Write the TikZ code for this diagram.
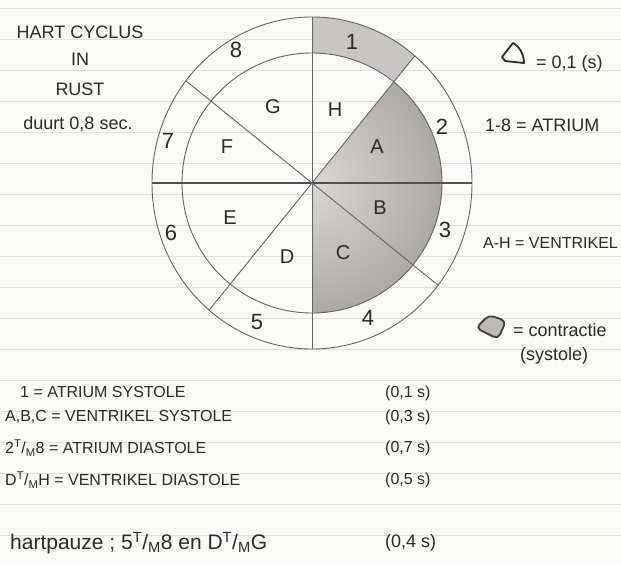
\documentclass[tikz,border=0pt]{standalone}
\usepackage{fontspec}
\setmainfont{Liberation Sans}
\definecolor{paper}{RGB}{250,250,248}
\definecolor{rulec}{RGB}{224,224,228}
\definecolor{penc}{RGB}{100,100,100}
\definecolor{inkc}{RGB}{45,42,42}
\definecolor{fillA}{RGB}{200,198,196}
\definecolor{fillIn}{RGB}{218,216,214}
\definecolor{fillOut}{RGB}{172,169,167}
\newcommand\tmk{\textsuperscript{T}/\textsubscript{M}}
\begin{document}
\begin{tikzpicture}[x=1pt,y=-1pt,
  pen/.style={draw=penc, line width=0.9pt},
  hand/.style={text=inkc, inner sep=0pt},
  fnum/.style={font=\fontsize{22}{22}\selectfont},
  flet/.style={font=\fontsize{20}{20}\selectfont},
  ftxt/.style={font=\fontsize{16}{16}\selectfont},
  fbig/.style={font=\fontsize{18}{18}\selectfont}]
\useasboundingbox (0,0) rectangle (621,563);
\fill[paper] (0,0) rectangle (621,563);
\foreach \yy in {8,39,70,101,132,163,194,225,256,287,318,349,380,411,442,473,504,535}
  \draw[rulec, line width=0.7pt] (0,\yy) -- (621,\yy);
% ---- circle diagram
\begin{scope}[shift={(312,183)}, yscale=-1]
  \fill[fillA] (0,130) -- (0,166) arc[start angle=90, end angle=50, x radius=160, y radius=166]
     -- (51:130) arc[start angle=51, end angle=90, radius=130] -- cycle;
  \begin{scope}
    \clip (0,0) -- (51:130) arc[start angle=51, end angle=-90, radius=130] -- cycle;
    \shade[inner color=fillIn, outer color=fillOut] (0,0) circle (130);
  \end{scope}
  \draw[pen] (0,0) ellipse [x radius=160, y radius=166];
  \draw[pen] (0,0) circle (130);
  \draw[pen] (0,166) -- (0,-166);
  \draw[pen, line width=1.2pt, draw=penc!80!black] (-160,0) -- (160,0);
  \draw[pen] ({160*cos(50)},{166*sin(50)}) -- ({160*cos(230)},{166*sin(230)});
  \draw[pen] ({160*cos(142)},{166*sin(142)}) -- ({160*cos(-38)},{166*sin(-38)});
\end{scope}
% ring numbers
\node[hand, fnum] (n1) at (352,42) {1};
\node[hand, fnum] (n2) at (442,127) {2};
\node[hand, fnum] (n3) at (445,230) {3};
\node[hand, fnum] (n4) at (368,318) {4};
\node[hand, fnum] (n5) at (257,322) {5};
\node[hand, fnum] (n6) at (171,233) {6};
\node[hand, fnum] (n7) at (168,141) {7};
\node[hand, fnum] (n8) at (236,50) {8};
% inner letters
\node[hand, flet] (lA) at (377,147) {A};
\node[hand, flet] (lB) at (380,208) {B};
\node[hand, flet] (lC) at (343,253) {C};
\node[hand, flet] (lD) at (287,257) {D};
\node[hand, flet] (lE) at (230,218) {E};
\node[hand, flet] (lF) at (227,147) {F};
\node[hand, flet] (lG) at (273,107) {G};
\node[hand, flet] (lH) at (335,110) {H};
% title
\node[hand, fbig] (t1) at (80,32) {HART CYCLUS};
\node[hand, fbig] (t2) at (80,59) {IN};
\node[hand, fbig] (t3) at (80,89) {RUST};
\node[hand, fbig] (t4) at (78,124) {duurt 0,8 sec.};
% legend right
\draw[draw=inkc, line width=1.8pt, line join=round]
  (502,57) -- (513,43) .. controls (519,46) and (524,54) .. (524,63) -- (505,61) -- cycle;
\node[hand, fbig, anchor=west] (k1) at (536,64) {= 0,1 (s)};
\node[hand, fbig, anchor=west] (k2) at (485,125) {1-8 = ATRIUM};
\node[hand, ftxt, anchor=west] (k3) at (483,243) {A-H = VENTRIKEL};
\draw[draw=inkc!90, fill=fillA!85!gray, line width=1.8pt, rounded corners=5pt]
  (476,328) -- (489,315) -- (506,321) -- (498,339) -- cycle;
\node[hand, fbig, anchor=west] (k4) at (513,330) {= contractie};
\node[hand, fbig, anchor=west] (k5) at (520,356) {(systole)};
% bottom list
\node[hand, ftxt, anchor=west] (b1) at (20,392) {1 = ATRIUM SYSTOLE};
\node[hand, ftxt, anchor=west] (b2) at (5,417) {A,B,C = VENTRIKEL SYSTOLE};
\node[hand, ftxt, anchor=west] (b3) at (5,448) {2\tmk8 = ATRIUM DIASTOLE};
\node[hand, ftxt, anchor=west] (b4) at (5,480) {D\tmk H = VENTRIKEL DIASTOLE};
\node[hand, ftxt, anchor=west] (p1) at (385,393) {(0,1 s)};
\node[hand, ftxt, anchor=west] (p2) at (385,417) {(0,3 s)};
\node[hand, ftxt, anchor=west] (p3) at (385,448) {(0,7 s)};
\node[hand, ftxt, anchor=west] (p4) at (385,480) {(0,5 s)};
\node[hand, font=\fontsize{21}{21}\selectfont, anchor=west] (h1) at (10,543) {hartpauze ; 5\tmk8 en D\tmk G};
\node[hand, fbig, anchor=west] (h2) at (385,543) {(0,4 s)};
\end{tikzpicture}
\end{document}
